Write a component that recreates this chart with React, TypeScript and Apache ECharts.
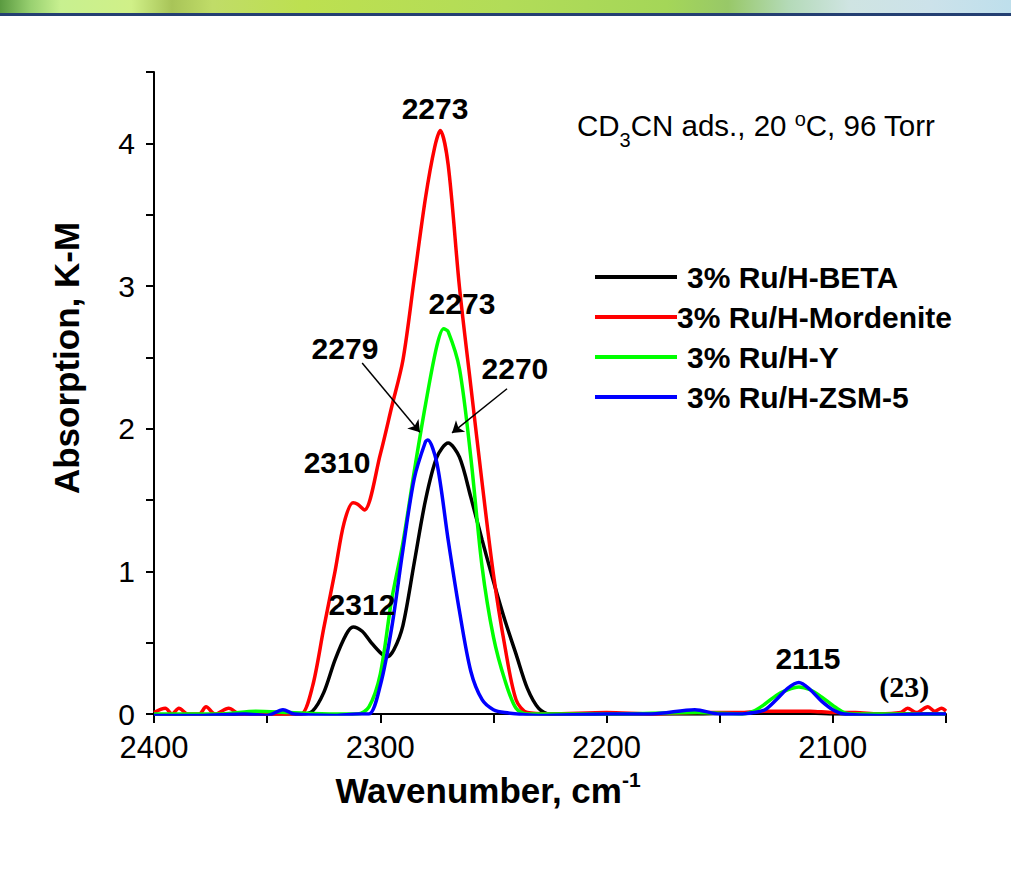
import React, { useEffect, useRef } from "react";
import * as echarts from "echarts";

// ---- data ----
const seriesNames = ["3% Ru/H-BETA", "3% Ru/H-Mordenite", "3% Ru/H-Y", "3% Ru/H-ZSM-5"];
const seriesColors = ["#000000", "#ff0000", "#00ff00", "#0000ff"];

const betaWn = [2400, 2380, 2360, 2345, 2335, 2330, 2325, 2320, 2315, 2312, 2308, 2304, 2300, 2297, 2294, 2290, 2285, 2280, 2275, 2270, 2265, 2260, 2255, 2250, 2245, 2240, 2235, 2230, 2225, 2200, 2160, 2130, 2115, 2100, 2080, 2050];
const betaAbs = [-0.01, -0.01, 0, 0, 0, 0.02, 0.15, 0.38, 0.56, 0.61, 0.58, 0.5, 0.43, 0.4, 0.45, 0.62, 1.06, 1.5, 1.8, 1.9, 1.8, 1.52, 1.22, 0.93, 0.66, 0.42, 0.18, 0.04, 0, 0, 0, 0.01, 0.01, 0, 0, 0];

const mordWn = [2400, 2395, 2392, 2389, 2385, 2380, 2377, 2373, 2367, 2362, 2355, 2345, 2340, 2335, 2330, 2325, 2320, 2316, 2312, 2310, 2307, 2300, 2295, 2290, 2285, 2280, 2276, 2273.5, 2270, 2265, 2260, 2255, 2250, 2245, 2240, 2235, 2225, 2200, 2180, 2160, 2140, 2130, 2120, 2110, 2100, 2090, 2080, 2070, 2067, 2063, 2058, 2055, 2052, 2050];
const mordAbs = [0.01, 0.04, 0.0, 0.04, 0.0, 0.0, 0.05, 0.0, 0.04, 0, 0, -0.01, 0, 0, 0.19, 0.6, 1.0, 1.34, 1.48, 1.47, 1.43, 1.82, 2.15, 2.48, 3.05, 3.62, 3.97, 4.09, 3.85, 2.99, 2.3, 1.62, 0.98, 0.48, 0.1, 0.01, 0, 0.01, 0, 0.01, 0.01, 0.02, 0.02, 0.02, 0.01, 0.01, 0.0, 0.01, 0.04, 0.01, 0.05, 0.02, 0.04, 0.02];

const yWn = [2400, 2370, 2355, 2340, 2320, 2310, 2305, 2300, 2295, 2290, 2285, 2280, 2275, 2272, 2270, 2265, 2260, 2255, 2250, 2245, 2240, 2235, 2200, 2160, 2140, 2135, 2130, 2125, 2120, 2115, 2110, 2105, 2100, 2095, 2090, 2070, 2050];
const yAbs = [0, 0, 0.02, 0.01, 0, 0, 0.05, 0.28, 0.8, 1.2, 1.7, 2.17, 2.58, 2.7, 2.68, 2.42, 1.8, 1.03, 0.54, 0.24, 0.04, 0, 0, 0.01, 0, 0.02, 0.07, 0.13, 0.17, 0.19, 0.17, 0.12, 0.06, 0.01, 0, 0, 0];

const zsmWn = [2400, 2380, 2360, 2350, 2343, 2338, 2320, 2310, 2305, 2300, 2295, 2290, 2285, 2280, 2279, 2275, 2270, 2265, 2260, 2255, 2250, 2245, 2230, 2200, 2180, 2161, 2150, 2140, 2135, 2130, 2125, 2120, 2115, 2110, 2105, 2100, 2095, 2080, 2060, 2050];
const zsmAbs = [-0.01, -0.01, 0, -0.01, 0.03, 0, -0.01, 0, 0, 0.2, 0.6, 1.15, 1.65, 1.91, 1.92, 1.76, 1.22, 0.72, 0.3, 0.1, 0.03, 0.01, -0.01, 0, 0, 0.03, 0, 0, 0.01, 0.03, 0.1, 0.18, 0.22, 0.17, 0.09, 0.03, 0.0, -0.01, 0, 0];

// peak annotations (text centre in data coordinates)
const peakLabels = ["2273", "2273", "2279", "2270", "2310", "2312", "2115", "(23)"];
const peakLabelWn = [2275.8, 2263.9, 2315.6, 2240.5, 2319.1, 2308.1, 2111, 2068.5];
const peakLabelAbs = [4.245, 2.88, 2.56, 2.42, 1.765, 0.77, 0.39, 0.196];

// arrows (start -> end, data coordinates)
const arrowFromWn = [2308, 2244];
const arrowFromAbs = [2.46, 2.28];
const arrowToWn = [2282.5, 2268.3];
const arrowToAbs = [1.975, 1.97];

const FONT = "'Liberation Sans', Arial, sans-serif";

export default function App() {
  const ref = useRef<HTMLDivElement>(null);

  useEffect(() => {
    document.body.style.margin = "0";
    const chart = echarts.init(ref.current!, null, { renderer: "svg" });
    const pair = (w: number[], v: number[]) => w.map((x, i) => [x, v[i]]);
    const curves = [pair(betaWn, betaAbs), pair(mordWn, mordAbs), pair(yWn, yAbs), pair(zsmWn, zsmAbs)];

    const lineSeries = curves.map((d, i) => ({
      type: "line",
      name: seriesNames[i],
      data: d,
      showSymbol: false,
      smooth: 0.3,
      color: seriesColors[i],
      lineStyle: { color: seriesColors[i], width: 3.5 },
      z: 2 + i,
      silent: true,
    }));

    const annotationSeries = {
      type: "scatter",
      name: "annotations",
      symbolSize: 1,
      itemStyle: { color: "#ffffff", opacity: 0 },
      silent: true,
      z: 10,
      data: peakLabels.map((t, i) => {
        const item: any = { value: [peakLabelWn[i], peakLabelAbs[i]], name: t };
        if (t.startsWith("(")) {
          item.label = { fontFamily: "'Liberation Serif', 'Times New Roman', serif", fontSize: 30 };
        }
        return item;
      }),
      label: {
        show: true,
        position: "inside",
        formatter: (p: any) => p.name,
        fontFamily: FONT,
        fontWeight: "bold",
        fontSize: 30,
        color: "#000000",
        opacity: 1,
        textBorderWidth: 0,
      },
      markLine: {
        silent: true,
        symbol: ["none", "arrow"],
        symbolSize: 11,
        label: { show: false },
        lineStyle: { color: "#000", width: 1.5, type: "solid", opacity: 1 },
        data: arrowFromWn.map((w, i) => [
          { coord: [w, arrowFromAbs[i]] },
          { coord: [arrowToWn[i], arrowToAbs[i]] },
        ]),
      },
    };

    chart.setOption({
      animation: false,
      backgroundColor: "#ffffff",
      grid: { left: 154, right: 65, top: 72, bottom: 159 },
      xAxis: {
        type: "value",
        min: 2050,
        max: 2400,
        interval: 50,
        inverse: true,
        axisLine: { show: true, onZero: false, lineStyle: { color: "#000", width: 2 } },
        axisTick: { show: true, inside: false, length: 9, lineStyle: { color: "#000", width: 2 } },
        axisLabel: {
          margin: 18,
          color: "#000",
          fontFamily: FONT,
          fontSize: 31,
          formatter: (v: number) => (v % 100 === 0 ? String(v) : ""),
        },
        splitLine: { show: false },
      },
      yAxis: {
        type: "value",
        min: 0,
        max: 4.5,
        interval: 0.5,
        axisLine: { show: true, lineStyle: { color: "#000", width: 2 } },
        axisTick: { show: true, inside: false, length: 8, lineStyle: { color: "#000", width: 2 } },
        axisLabel: {
          margin: 19,
          color: "#000",
          fontFamily: FONT,
          fontSize: 30,
          formatter: (v: number) => (Number.isInteger(v) ? String(v) : ""),
        },
        splitLine: { show: false },
      },
      legend: {
        data: seriesNames.map((n, i) =>
          i === 1 ? { name: n, textStyle: { padding: [0, 0, 0, -5] } } : { name: n }
        ),
        orient: "vertical",
        left: 595,
        top: 262,
        padding: 0,
        itemWidth: 82,
        itemHeight: 4,
        itemGap: 10,
        icon: "rect",
        selectedMode: false,
        textStyle: {
          fontFamily: FONT,
          fontSize: 30,
          fontWeight: "bold",
          color: "#000",
          lineHeight: 30,
          padding: [0, 0, 0, 5],
        },
      },
      series: [...lineSeries, annotationSeries],
      graphic: [
        {
          type: "rect",
          left: 0,
          top: 0,
          shape: { x: 0, y: 0, width: 1011, height: 13 },
          style: {
            fill: new echarts.graphic.LinearGradient(0, 0, 1, 0, [
              { offset: 0, color: "#5a9a40" },
              { offset: 0.03, color: "#98d070" },
              { offset: 0.06, color: "#c8f090" },
              { offset: 0.13, color: "#d0f088" },
              { offset: 0.17, color: "#a8c458" },
              { offset: 0.21, color: "#c0dc68" },
              { offset: 0.3, color: "#bde050" },
              { offset: 0.5, color: "#b2dc58" },
              { offset: 0.66, color: "#a4d658" },
              { offset: 0.72, color: "#98c868" },
              { offset: 0.78, color: "#b4dab8" },
              { offset: 0.84, color: "#cfe4e2" },
              { offset: 0.92, color: "#cce2ea" },
              { offset: 1, color: "#bedfec" },
            ]),
          },
          silent: true,
        },
        {
          type: "rect",
          left: 0,
          top: 13,
          shape: { x: 0, y: 0, width: 1011, height: 3 },
          style: { fill: "#243f72" },
          silent: true,
        },
        {
          type: "text",
          x: 577,
          y: 101,
          silent: true,
          style: {
            text: "{a|CD}{b|3}{a|CN ads., 20 }{c|o}{a|C, 96 Torr}",
            align: "left",
            verticalAlign: "top",
            fill: "#000",
            rich: {
              a: { fontFamily: FONT, fontSize: 29.5, lineHeight: 49, fill: "#000", verticalAlign: "middle" },
              b: { fontFamily: FONT, fontSize: 20, fill: "#000", verticalAlign: "bottom" },
              c: { fontFamily: FONT, fontSize: 20, fill: "#000", verticalAlign: "top", padding: [8, 0, 0, 0] },
            },
          },
        },
        {
          type: "text",
          x: 488,
          y: 769,
          silent: true,
          style: {
            text: "{a|Wavenumber, cm}{s|-1}",
            align: "center",
            verticalAlign: "top",
            fill: "#000",
            rich: {
              a: { fontFamily: FONT, fontSize: 35, fontWeight: "bold", lineHeight: 42, fill: "#000", verticalAlign: "middle" },
              s: { fontFamily: FONT, fontSize: 21, fontWeight: "bold", fill: "#000", verticalAlign: "top" },
            },
          },
        },
        {
          type: "text",
          x: 66,
          y: 358,
          rotation: Math.PI / 2,
          silent: true,
          style: {
            text: "Absorption, K-M",
            fontFamily: FONT,
            fontSize: 35,
            fontWeight: "bold",
            fill: "#000",
            align: "center",
            verticalAlign: "middle",
          },
        },
      ],
    });

    return () => chart.dispose();
  }, []);

  return <div ref={ref} style={{ width: 1011, height: 873 }} />;
}
